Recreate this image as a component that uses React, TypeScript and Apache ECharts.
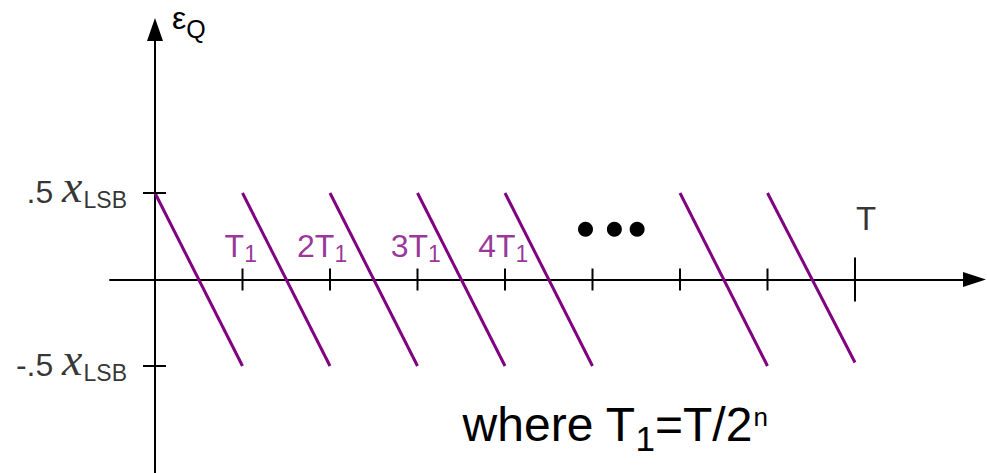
import React, { useEffect, useRef } from 'react';
import * as echarts from 'echarts';

// ---- data ----
const SAW_START = [0, 1, 2, 3, 4, 6, 7];
const SAW_HIGH = [0.5, 0.5, 0.5, 0.5, 0.5, 0.5, 0.5];
const SAW_LOW = [-0.5, -0.5, -0.5, -0.5, -0.5, -0.5, -0.48];
const MINOR_TICKS = [1, 2, 3, 4, 5, 6, 7];
const MAJOR_TICKS = [8];
const Y_TICKS = [0.5, -0.5];
const Y_TICK_LABELS = ['.5 ', '-.5 '];
const Y_LABEL_X = -0.32;
const T1_PREFIX = ['', '2', '3', '4'];
const T1_LABEL_X = [0.98, 1.91, 2.98, 3.98];
const T1_LABEL_Y = 0.171;
const DOTS_X = [4.92, 5.25, 5.51];
const DOTS_Y = 0.29;
const T_LABEL_POS = [8.126, 0.352];

// ---- geometry (pixels) ----
const W = 987;
const H = 473;
const X0 = 155;
const UX = 87.5;
const Y0 = 279.5;
const UY = 173;
const GRID_LEFT = 110;
const X_END = 986 - 11.5;
const GRID_TOP = 18 + 11.5;
const X_MIN = (GRID_LEFT - X0) / UX;
const X_MAX = (X_END - X0) / UX;
const Y_MAX = (Y0 - GRID_TOP) / UY;
const Y_MIN = -(H - Y0) / UY;

const PURPLE = '#800080';
const SANS = 'Liberation Sans, Arial, sans-serif';
const SERIF = 'Liberation Serif, Times New Roman, serif';

export default function App() {
  const ref = useRef<HTMLDivElement>(null);
  useEffect(() => {
    document.body.style.margin = '0';
    const chart = echarts.init(ref.current!, null, { renderer: 'svg' });

    const tickSeries = (xs: number[], half: number) => ({
      type: 'custom',
      silent: true,
      z: 5,
      data: xs.map((x) => [x, 0]),
      renderItem: (_p: any, api: any) => {
        const p = api.coord([api.value(0), api.value(1)]);
        return {
          type: 'line',
          shape: { x1: p[0], y1: p[1] - half, x2: p[0], y2: p[1] + half },
          style: { stroke: '#000', lineWidth: 2 },
        };
      },
    });

    const option: any = {
      animation: false,
      backgroundColor: '#fff',
      grid: {
        left: GRID_LEFT,
        right: W - X_END,
        top: GRID_TOP,
        bottom: 0,
        containLabel: false,
        outerBoundsMode: 'none',
      },
      xAxis: {
        type: 'value',
        min: X_MIN,
        max: X_MAX,
        splitLine: { show: false },
        axisTick: { show: false },
        axisLabel: { show: false },
        axisLine: {
          show: true,
          onZero: true,
          symbol: ['none', 'triangle'],
          symbolSize: [15, 23],
          lineStyle: { color: '#000', width: 2 },
        },
      },
      yAxis: {
        type: 'value',
        min: Y_MIN,
        max: Y_MAX,
        splitLine: { show: false },
        axisTick: { show: false },
        axisLabel: { show: false },
        axisLine: {
          show: true,
          onZero: true,
          symbol: ['none', 'triangle'],
          symbolSize: [16, 23],
          lineStyle: { color: '#000', width: 2 },
        },
      },
      graphic: [
        {
          type: 'text',
          x: 172,
          y: 2,
          style: {
            text: '{e|ε}{q|Q}',
            align: 'left',
            verticalAlign: 'top',
            rich: {
              e: { fontSize: 32, fontFamily: SANS, fill: '#000', verticalAlign: 'top', height: 32, lineHeight: 40 },
              q: { fontSize: 25, fontFamily: SANS, fill: '#000', verticalAlign: 'top', height: 25, lineHeight: 40, padding: [14, 0, 0, 0] },
            },
          },
        },
        {
          type: 'text',
          x: 615,
          y: 430,
          style: {
            text: '{w|where T}{s|1}{w|=T/2}{n|n}',
            align: 'center',
            verticalAlign: 'middle',
            rich: {
              w: { fontSize: 48, fontFamily: SANS, fill: '#000', verticalAlign: 'top', height: 48, lineHeight: 60 },
              s: { fontSize: 35, fontFamily: SANS, fill: '#000', verticalAlign: 'top', height: 35, lineHeight: 60, padding: [21, 0, 0, 0] },
              n: { fontSize: 26, fontFamily: SANS, fill: '#000', verticalAlign: 'top', height: 26, lineHeight: 60, padding: [4, 0, 0, 1] },
            },
          },
        },
      ],
      series: [
        {
          type: 'lines',
          coordinateSystem: 'cartesian2d',
          silent: true,
          z: 3,
          data: SAW_START.map((s, i) => ({ coords: [[s, SAW_HIGH[i]], [s + 1, SAW_LOW[i]]] })),
          lineStyle: { color: PURPLE, width: 3, opacity: 1 },
        },
        tickSeries(MINOR_TICKS, 11),
        tickSeries(MAJOR_TICKS, 22),
        {
          type: 'custom',
          silent: true,
          z: 5,
          data: Y_TICKS.map((v) => [0, v]),
          renderItem: (_p: any, api: any) => {
            const p = api.coord([api.value(0), api.value(1)]);
            return {
              type: 'line',
              shape: { x1: p[0] - 12, y1: p[1], x2: p[0] + 11, y2: p[1] },
              style: { stroke: '#000', lineWidth: 2 },
            };
          },
        },
        {
          type: 'scatter',
          silent: true,
          z: 6,
          symbolSize: 15,
          itemStyle: { color: '#000', opacity: 1 },
          data: DOTS_X.map((x) => [x, DOTS_Y]),
        },
        {
          type: 'scatter',
          silent: true,
          clip: false,
          z: 7,
          symbolSize: 1,
          itemStyle: { color: 'rgba(0,0,0,0)' },
          data: Y_TICKS.map((v, i) => ({ value: [Y_LABEL_X, v], name: Y_TICK_LABELS[i] })),
          label: {
            show: true,
            position: 'inside',
            align: 'right',
            verticalAlign: 'middle',
            formatter: (p: any) => '{m|' + p.name + '}{x|x}{s|LSB}',
            rich: {
              m: { fontSize: 32, fontFamily: SANS, color: '#000', verticalAlign: 'top', height: 32, lineHeight: 64, padding: [15, 0, 0, 0] },
              x: { fontSize: 46, fontFamily: SERIF, fontStyle: 'italic', color: '#000', verticalAlign: 'top', height: 46, lineHeight: 64, padding: [2, 1, 0, 0] },
              s: { fontSize: 23, fontFamily: SANS, color: '#000', verticalAlign: 'top', height: 23, lineHeight: 64, padding: [27, 0, 0, 0] },
            },
          },
        },
        {
          type: 'scatter',
          silent: true,
          clip: false,
          z: 7,
          symbolSize: 1,
          itemStyle: { color: 'rgba(0,0,0,0)' },
          data: T1_LABEL_X.map((x, i) => ({ value: [x, T1_LABEL_Y], name: T1_PREFIX[i] })),
          label: {
            show: true,
            position: 'inside',
            formatter: (p: any) => '{a|' + p.name + 'T}{b|1}',
            rich: {
              a: { fontSize: 32, fontFamily: SANS, color: PURPLE, verticalAlign: 'top', height: 32, lineHeight: 40 },
              b: { fontSize: 23, fontFamily: SANS, color: PURPLE, verticalAlign: 'top', height: 23, lineHeight: 40, padding: [13, 0, 0, 0] },
            },
          },
        },
        {
          type: 'scatter',
          silent: true,
          clip: false,
          z: 7,
          symbolSize: 1,
          itemStyle: { color: 'rgba(0,0,0,0)' },
          data: [T_LABEL_POS],
          label: {
            show: true,
            position: 'inside',
            formatter: 'T',
            fontSize: 33,
            fontFamily: SANS,
            color: '#000',
          },
        },
      ],
    };
    chart.setOption(option);
    return () => chart.dispose();
  }, []);
  return <div ref={ref} style={{ position: 'absolute', left: 0, top: 0, width: W, height: H }} />;
}
